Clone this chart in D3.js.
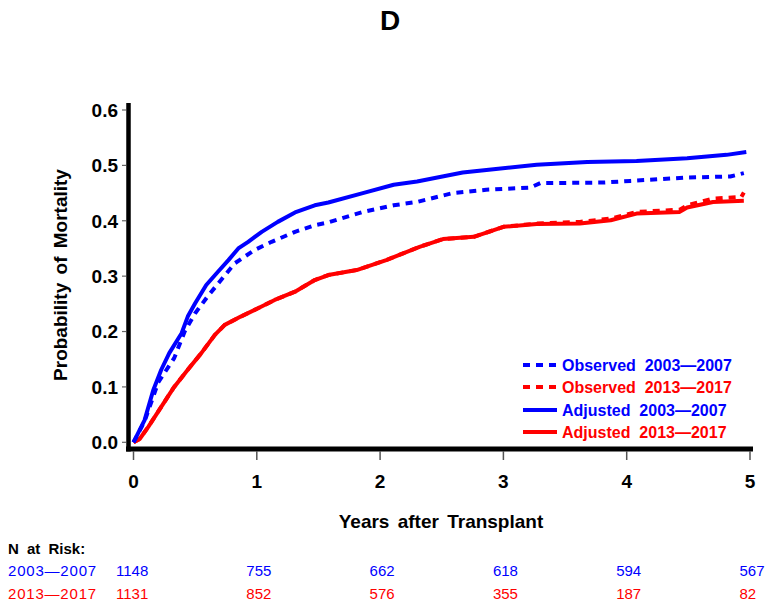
<!DOCTYPE html>
<html><head><meta charset="utf-8">
<script src="https://cdn.jsdelivr.net/npm/d3@7"></script>
<style>
body{margin:0;background:#fff;}
svg{display:block;font-family:"Liberation Sans",Arial,sans-serif;}
</style></head>
<body>
<svg id="chart" width="772" height="609"></svg>
<script>
// ---- data ----
const xTicks = [0, 1, 2, 3, 4, 5];
const yTicks = [0.0, 0.1, 0.2, 0.3, 0.4, 0.5, 0.6];

const adj0307T = [0,0.09,0.16,0.225,0.29,0.39,0.44,0.50,0.59,0.685,0.77,0.85,0.93,1.04,1.17,1.31,1.47,1.58,1.86,2.11,2.30,2.67,2.92,3.27,3.68,4.08,4.49,4.81,4.97];
const adj0307V = [0,0.040,0.094,0.131,0.161,0.197,0.227,0.251,0.284,0.308,0.329,0.350,0.362,0.380,0.398,0.415,0.428,0.433,0.450,0.465,0.471,0.487,0.493,0.501,0.506,0.508,0.513,0.519,0.524];

const obs0307T = [0,0.09,0.20,0.33,0.415,0.50,0.60,0.71,0.82,0.98,1.12,1.31,1.47,1.58,1.86,2.11,2.30,2.59,2.86,3.22,3.30,3.81,4.03,4.49,4.84,4.95];
const obs0307V = [0,0.038,0.108,0.152,0.200,0.233,0.263,0.293,0.323,0.347,0.362,0.380,0.392,0.397,0.416,0.428,0.434,0.450,0.456,0.460,0.468,0.469,0.472,0.478,0.480,0.486];

const adj1317T = [0,0.05,0.12,0.225,0.33,0.44,0.55,0.66,0.74,0.87,1.01,1.145,1.31,1.47,1.58,1.81,2.05,2.32,2.51,2.76,3.0,3.27,3.62,3.87,4.08,4.43,4.49,4.70,4.95];
const adj1317V = [0,0.006,0.028,0.064,0.100,0.131,0.161,0.194,0.212,0.227,0.242,0.257,0.272,0.293,0.302,0.311,0.329,0.353,0.367,0.371,0.389,0.394,0.395,0.401,0.413,0.416,0.424,0.434,0.436];

const obs1317T = [0,0.05,0.12,0.225,0.33,0.44,0.55,0.66,0.74,0.87,1.01,1.145,1.31,1.47,1.58,1.81,2.05,2.32,2.51,2.76,3.0,3.27,3.62,3.87,4.08,4.43,4.49,4.70,4.93,4.95];
const obs1317V = [0,0.006,0.028,0.064,0.100,0.131,0.161,0.194,0.212,0.227,0.242,0.257,0.272,0.293,0.302,0.311,0.329,0.353,0.367,0.371,0.389,0.395,0.398,0.404,0.416,0.420,0.428,0.440,0.443,0.451];

const legendLabels = ["Observed  2003\u20142007","Observed  2013\u20142017","Adjusted  2003\u20142007","Adjusted  2013\u20142017"];
const riskGroups = ["2003\u20142007","2013\u20142017"];
const risk0307 = [1148, 755, 662, 618, 594, 567];
const risk1317 = [1131, 852, 576, 355, 187, 82];

const BLUE = "#0000ff", RED = "#ff0000";

// ---- layout ----
const svg = d3.select("#chart");
const x = d3.scaleLinear().domain([0,5]).range([133.5, 750]);
const y = d3.scaleLinear().domain([0,0.6]).range([442.3, 110]);

// title
svg.append("text").attr("x",390).attr("y",30).attr("text-anchor","middle")
  .attr("font-size",28).attr("font-weight","bold").text("D");

// axes lines
svg.append("line").attr("x1",128.5).attr("x2",128.5).attr("y1",103).attr("y2",451.5)
  .attr("stroke","#000").attr("stroke-width",4.5);
svg.append("line").attr("x1",126).attr("x2",753).attr("y1",449).attr("y2",449)
  .attr("stroke","#000").attr("stroke-width",5);

// y ticks + labels
const yg = svg.append("g");
yTicks.forEach(v=>{
  yg.append("line").attr("x1",122).attr("x2",126).attr("y1",y(v)).attr("y2",y(v))
    .attr("stroke","#666").attr("stroke-width",1.2);
  yg.append("text").attr("x",118).attr("y",y(v)).attr("dy","0.36em")
    .attr("text-anchor","end").attr("font-size",19).attr("font-weight","bold").text(d3.format(".1f")(v));
});
// x ticks + labels
const xg = svg.append("g");
xTicks.forEach(t=>{
  xg.append("line").attr("x1",x(t)).attr("x2",x(t)).attr("y1",451).attr("y2",460)
    .attr("stroke","#555").attr("stroke-width",1.5);
  xg.append("text").attr("x",x(t)).attr("y",488).attr("text-anchor","middle")
    .attr("font-size",19).attr("font-weight","bold").text(t);
});

// axis titles
svg.append("text").attr("x",441).attr("y",528).attr("text-anchor","middle")
  .attr("font-size",19).attr("font-weight","bold").attr("word-spacing",3).text("Years after Transplant");
svg.append("text").attr("transform","translate(67,275) rotate(-90)").attr("text-anchor","middle")
  .attr("font-size",19).attr("font-weight","bold").attr("word-spacing",3).text("Probability of Mortality");

// curves
const line = d3.line().x(d=>x(d[0])).y(d=>y(d[1])).curve(d3.curveLinear);
const zip = (a,b)=>a.map((t,i)=>[t,b[i]]);
const series = [
  {t:obs1317T, v:obs1317V, c:RED, dash:"7,6"},
  {t:adj1317T, v:adj1317V, c:RED, dash:null},
  {t:obs0307T, v:obs0307V, c:BLUE, dash:"7,6"},
  {t:adj0307T, v:adj0307V, c:BLUE, dash:null}
];
series.forEach(s=>{
  svg.append("path").datum(zip(s.t,s.v)).attr("d",line)
    .attr("fill","none").attr("stroke",s.c).attr("stroke-width",4)
    .attr("stroke-linejoin","round")
    .attr("stroke-dasharray",s.dash);
});

// legend
const legColors = [BLUE, RED, BLUE, RED];
const legDash = ["7,6","7,6",null,null];
const legY = [365, 387, 410, 432];
legendLabels.forEach((lab,i)=>{
  svg.append("line").attr("x1",523).attr("x2",557).attr("y1",legY[i]).attr("y2",legY[i])
    .attr("stroke",legColors[i]).attr("stroke-width",4).attr("stroke-dasharray",legDash[i]);
  svg.append("text").attr("x",562).attr("y",legY[i]).attr("dy","0.36em")
    .attr("font-size",16).attr("font-weight","bold").attr("fill",legColors[i])
    .attr("xml:space","preserve").style("white-space","pre").text(lab);
});

// N at risk table
svg.append("text").attr("x",8).attr("y",549).attr("dy","0.36em")
  .attr("font-size",15).attr("font-weight","bold").attr("word-spacing",4).text("N at Risk:");
[[risk0307,BLUE,571],[risk1317,RED,594]].forEach((r,gi)=>{
  svg.append("text").attr("x",8).attr("y",r[2]).attr("dy","0.36em")
    .attr("font-size",15).attr("fill",r[1]).attr("letter-spacing",0.8).text(riskGroups[gi]);
  r[0].forEach((n,i)=>{
    svg.append("text").attr("x",x(xTicks[i]) - (i===0?17.5:10.5)).attr("y",r[2]).attr("dy","0.36em")
      .attr("font-size",15).attr("fill",r[1]).text(n);
  });
});
</script>
</body></html>
